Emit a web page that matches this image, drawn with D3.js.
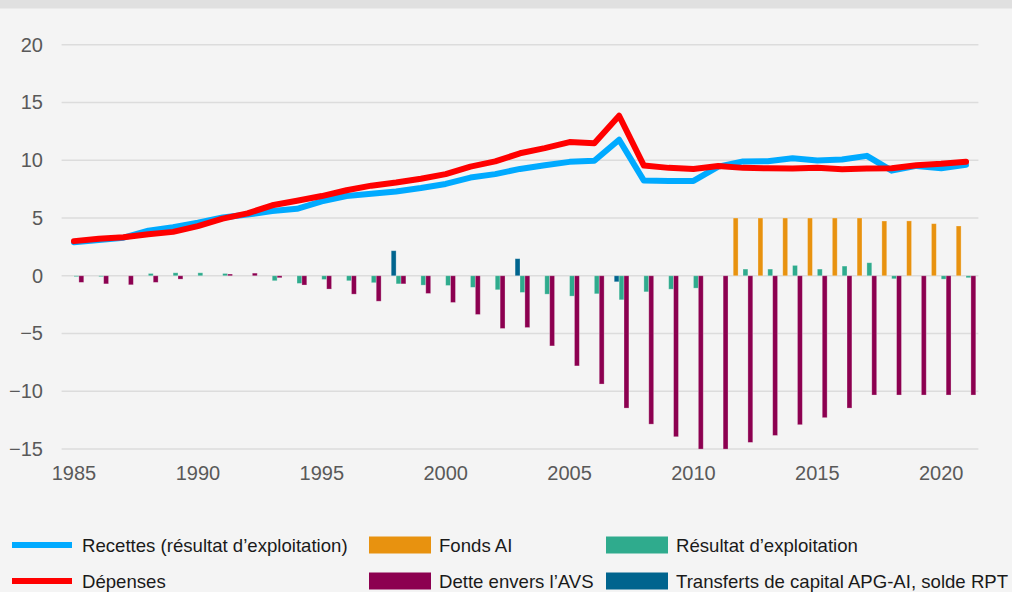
<!DOCTYPE html>
<html>
<head>
<meta charset="utf-8">
<script src="https://cdn.jsdelivr.net/npm/d3@7"></script>
<style>
  html, body { margin: 0; padding: 0; background: #f4f4f4; }
  svg { display: block; }
  text { font-family: "Liberation Sans", Arial, sans-serif; }
</style>
</head>
<body>
<svg id="chart" width="1012" height="592"></svg>
<script>
const years = d3.range(1985, 2022);
const xTickLabels = [1985, 1990, 1995, 2000, 2005, 2010, 2015, 2020];
const yTickLabels = [20, 15, 10, 5, 0, -5, -10, -15];

const recettes = [2.9, 3.1, 3.3, 3.9, 4.2, 4.6, 5.05, 5.3, 5.6, 5.8, 6.45, 6.9, 7.1,
  7.3, 7.6, 7.95, 8.5, 8.8, 9.25, 9.57, 9.86, 9.95, 11.77, 8.24, 8.21, 8.21, 9.45,
  9.9, 9.92, 10.18, 9.97, 10.06, 10.38, 9.1, 9.51, 9.31, 9.6];
const depenses = [3.0, 3.2, 3.33, 3.6, 3.8, 4.3, 4.95, 5.4, 6.1, 6.5, 6.9, 7.4, 7.8,
  8.07, 8.4, 8.8, 9.45, 9.9, 10.6, 11.05, 11.57, 11.48, 13.85, 9.54, 9.34, 9.25, 9.5,
  9.34, 9.31, 9.28, 9.34, 9.23, 9.28, 9.31, 9.57, 9.69, 9.86];

const fondsAI = [0, 0, 0, 0, 0, 0, 0, 0, 0, 0, 0, 0, 0, 0, 0, 0, 0, 0, 0, 0, 0, 0, 0, 0, 0, 0, 0,
  5.0, 5.0, 5.0, 5.0, 5.0, 5.0, 4.74, 4.75, 4.51, 4.31];
const transferts = [0, 0, 0, 0, 0, 0, 0, 0, 0, 0, 0, 0, 0, 2.17, 0, 0, 0, 0, 1.48, 0, 0, 0, -0.52,
  0, 0, 0, 0, 0, 0, 0, 0, 0, 0, 0, 0, 0, 0];
const resultat = [-0.08, -0.08, 0, 0.2, 0.26, 0.26, 0.2, 0, -0.43, -0.66, -0.32, -0.43, -0.6,
  -0.7, -0.81, -0.84, -1.0, -1.21, -1.44, -1.59, -1.76, -1.56, -2.08, -1.39, -1.16, -1.07, 0,
  0.58, 0.58, 0.9, 0.58, 0.84, 1.13, -0.26, 0, -0.29, -0.17];
const dette = [-0.57, -0.7, -0.78, -0.57, -0.29, 0, 0.15, 0.23, -0.17, -0.8, -1.15, -1.59, -2.2,
  -0.7, -1.53, -2.31, -3.35, -4.56, -4.48, -6.07, -7.8, -9.37, -11.45, -12.84, -13.93, -15.0, -15.0,
  -14.42, -13.82, -12.89, -12.28, -11.45, -10.32, -10.32, -10.32, -10.32, -10.32];

const barSeries = [
  { key: "fonds", name: "Fonds AI", values: fondsAI, color: "#e8920f" },
  { key: "transferts", name: "Transferts de capital APG-AI, solde RPT", values: transferts, color: "#00648e" },
  { key: "resultat", name: "Résultat d’exploitation", values: resultat, color: "#2fab8d" },
  { key: "dette", name: "Dette envers l’AVS", values: dette, color: "#8c0050" }
];
const lineSeries = [
  { name: "Recettes (résultat d’exploitation)", values: recettes, color: "#00aaff" },
  { name: "Dépenses", values: depenses, color: "#ff0000" }
];

const svg = d3.select("#chart");
svg.append("rect").attr("width", 1012).attr("height", 592).attr("fill", "#f4f4f4");
svg.append("rect").attr("width", 1012).attr("height", 8.5).attr("fill", "#e0e0e0");

const x = d3.scaleBand().domain(years).range([61.6, 978.4]).paddingInner(0).paddingOuter(0);
const y = d3.scaleLinear().domain([-15, 20]).range([449.1, 44.7]);
const groupW = 19.6;
const xs = d3.scaleBand().domain(barSeries.map(s => s.key)).range([0, groupW]);
const cx = yr => x(yr) + x.bandwidth() / 2;

// gridlines
svg.append("g").selectAll("line").data(yTickLabels).join("line")
  .attr("x1", 61.6).attr("x2", 978.4)
  .attr("y1", d => y(d)).attr("y2", d => y(d))
  .attr("stroke", "#dcdcdc").attr("stroke-width", 1.5);

// y axis labels
const yAxis = d3.axisLeft(y).tickValues(yTickLabels).tickSize(0).tickPadding(0);
const yg = svg.append("g").attr("transform", "translate(43,0)").call(yAxis);
yg.select(".domain").remove();
yg.selectAll("text").attr("font-size", 20).attr("fill", "#595959")
  .attr("font-family", "Liberation Sans, Arial, sans-serif");

// x axis labels
const xAxis = d3.axisBottom(x).tickValues(xTickLabels).tickSize(0).tickPadding(0);
const xg = svg.append("g").attr("transform", "translate(0,466)").call(xAxis);
xg.select(".domain").remove();
xg.selectAll("text").attr("font-size", 20).attr("fill", "#595959")
  .attr("font-family", "Liberation Sans, Arial, sans-serif");

// bars
barSeries.forEach(s => {
  svg.append("g").selectAll("rect").data(years.map((yr, i) => ({ yr, v: s.values[i] })).filter(d => d.v !== 0))
    .join("rect")
    .attr("x", d => cx(d.yr) - groupW / 2 + xs(s.key))
    .attr("width", xs.bandwidth())
    .attr("y", d => Math.min(y(d.v), y(0)))
    .attr("height", d => Math.abs(y(d.v) - y(0)))
    .attr("fill", s.color)
    .attr("stroke", "rgba(255,255,255,0.35)").attr("stroke-width", 0.8);
});

// lines
const line = d3.line().x((d, i) => cx(years[i])).y(d => y(d));
lineSeries.forEach(s => {
  svg.append("path").datum(s.values).attr("d", line)
    .attr("fill", "none").attr("stroke", s.color).attr("stroke-width", 6)
    .attr("stroke-linejoin", "round").attr("stroke-linecap", "round");
});

// legend
const leg = svg.append("g").attr("font-size", 18.6).attr("fill", "#1a1a1a");
const row1 = 545, row2 = 581;
const lineLegend = [
  { s: lineSeries[0], y: row1 },
  { s: lineSeries[1], y: row2 }
];
lineLegend.forEach(d => {
  leg.append("line").attr("x1", 12).attr("x2", 72).attr("y1", d.y).attr("y2", d.y)
    .attr("stroke", d.s.color).attr("stroke-width", 6);
  leg.append("text").attr("x", 82).attr("y", d.y).attr("dy", "0.36em").text(d.s.name);
});
const rectLegend = [
  { s: barSeries[0], x: 369, y: row1 },
  { s: barSeries[2], x: 606, y: row1 },
  { s: barSeries[3], x: 369, y: row2 },
  { s: barSeries[1], x: 606, y: row2 }
];
rectLegend.forEach(d => {
  leg.append("rect").attr("x", d.x).attr("y", d.y - 8.5).attr("width", 62).attr("height", 17)
    .attr("fill", d.s.color);
  leg.append("text").attr("x", d.x + 70).attr("y", d.y).attr("dy", "0.36em").text(d.s.name);
});
</script>
</body>
</html>
